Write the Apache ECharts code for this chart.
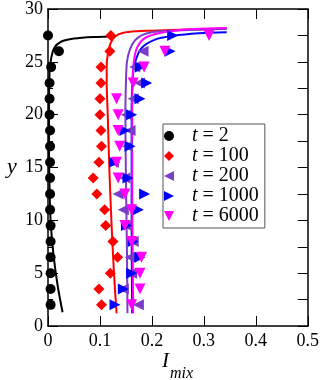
<!DOCTYPE html>
<html>
<head>
<meta charset="utf-8">
<script src="https://cdn.jsdelivr.net/npm/echarts@6/dist/echarts.min.js"></script>
<style>
  html, body { margin: 0; padding: 0; background: #fff; }
  #chart { width: 322px; height: 380px; }
</style>
</head>
<body>
<div id="chart"></div>
<script>
// y positions shared by all the marker sets
var yLevels = [2, 3.5, 5, 6.5, 8, 9.5, 11, 12.5, 14, 15.5, 17, 18.5, 20, 21.5, 23, 24.5, 26, 27.5];

// I_mix, one per y level (null = not drawn)
var t2x = [0.005, 0.005, 0.005, 0.005, 0.005, 0.005, 0.004, 0.004, 0.004, 0.004, 0.004, 0.004, 0.003, 0.003, 0.003, 0.006, 0.021, 0.0];
var t100x = [0.103, 0.098, 0.12, 0.134, 0.125, 0.111, 0.109, 0.094, 0.087, 0.098, 0.103, 0.102, 0.1, 0.1, 0.102, 0.102, 0.119, 0.121];
var t200x = [0.174, 0.145, 0.161, 0.158, 0.164, 0.151, 0.145, 0.135, 0.148, 0.126, 0.153, 0.158, 0.151, 0.164, 0.176, 0.167, 0.183, null];
var t1000x = [0.129, 0.145, 0.161, 0.177, 0.164, 0.151, 0.174, 0.186, 0.154, 0.128, 0.158, 0.148, 0.161, 0.177, 0.19, 0.178, 0.235, 0.24];
var t6000x = [0.161, 0.177, 0.177, 0.18, 0.161, 0.148, 0.161, 0.148, 0.135, 0.132, 0.138, 0.135, 0.135, 0.132, 0.164, 0.185, 0.225, 0.31];

// fitted curves, [I_mix, y]
var fit2 = [[0.028, 1.3], [0.018, 4], [0.01, 7], [0.005, 10], [0.003, 13], [0.002, 17], [0.002, 21], [0.003, 24], [0.006, 25.3], [0.012, 26.3], [0.025, 26.9], [0.05, 27.2], [0.09, 27.35], [0.13, 27.4]];
var fit100 = [[0.132, 1.2], [0.127, 5], [0.122, 10], [0.118, 15], [0.115, 20], [0.113, 23], [0.113, 24.5], [0.115, 25.7], [0.12, 26.7], [0.129, 27.4], [0.145, 27.75], [0.17, 27.9], [0.2, 27.95], [0.27, 28.05], [0.344, 28.15]];
var fit200 = [[0.153, 1.2], [0.152, 7], [0.15, 14], [0.149, 20], [0.15, 23], [0.152, 25], [0.158, 26.2], [0.167, 27.0], [0.18, 27.5], [0.2, 27.8], [0.24, 27.95], [0.3, 28.05], [0.344, 28.1]];
var fit1000 = [[0.162, 1.2], [0.161, 10], [0.161, 20], [0.163, 23.5], [0.168, 25], [0.18, 26.3], [0.206, 27.1], [0.24, 27.45], [0.29, 27.7], [0.344, 27.8]];
var fit6000 = [[0.164, 1.2], [0.163, 7], [0.162, 14], [0.162, 20], [0.163, 23.5], [0.166, 25.3], [0.173, 26.5], [0.19, 27.35], [0.228, 27.85], [0.28, 28.1], [0.344, 28.2]];

var names = ['t = 2', 't = 100', 't = 200', 't = 1000', 't = 6000'];
var colors = ['#000000', '#ff0000', '#7b3cc8', '#0000ff', '#ff00ff'];
var symbols = [
  'circle',
  'path://M5,0 L10,5 L5,10 L0,5 Z',
  'path://M10,0 L0,5 L10,10 Z',
  'path://M0,0 L10,5 L0,10 Z',
  'path://M0,0 L10,0 L5,10 Z'
];
var sizes = [10, 11, 11, 11, 11];

var serif = 'Liberation Serif';

function pairs(xs) {
  var out = [];
  xs.forEach(function (x, i) {
    if (x !== null) out.push([x, yLevels[i]]);
  });
  return out;
}

var markerSets = [t2x, t100x, t200x, t1000x, t6000x];
var fitSets = [fit2, fit100, fit200, fit1000, fit6000];

var series = [];
fitSets.forEach(function (d, i) {
  series.push({
    name: 'fit ' + names[i],
    type: 'line',
    data: d,
    smooth: 0.3,
    showSymbol: false,
    lineStyle: { color: colors[i], width: 2 },
    itemStyle: { color: colors[i] },
    z: 2,
    silent: true
  });
});
markerSets.forEach(function (xs, i) {
  series.push({
    name: names[i],
    type: 'scatter',
    data: pairs(xs),
    symbol: symbols[i],
    symbolSize: sizes[i],
    itemStyle: { color: colors[i], opacity: 1 },
    z: 3
  });
});

var chart = echarts.init(document.getElementById('chart'), null, { renderer: 'canvas' });

var axisCommon = {
  axisLine: { show: true, onZero: false, lineStyle: { color: '#000', width: 1.5 } },
  splitLine: { show: false }
};

chart.setOption({
  animation: false,
  backgroundColor: '#fff',
  textStyle: { fontFamily: serif, color: '#000' },
  grid: { left: 48, right: 14, top: 8, bottom: 54, containLabel: false },
  xAxis: [
    Object.assign({
      type: 'value', position: 'bottom', min: 0, max: 0.5, interval: 0.1,
      axisTick: { inside: true, length: 10, lineStyle: { color: '#000' } },
      axisLabel: {
        color: '#000', fontFamily: serif, fontSize: 18, margin: 6,
        formatter: function (v) { return v === 0 ? '0' : String(+v.toFixed(1)); }
      }
    }, axisCommon),
    Object.assign({
      type: 'value', position: 'top', min: 0, max: 0.5, interval: 0.1,
      axisTick: { inside: true, length: 10, lineStyle: { color: '#000' } },
      axisLabel: { show: false }
    }, axisCommon)
  ],
  yAxis: [
    Object.assign({
      type: 'value', position: 'left', min: 0, max: 30, interval: 5,
      axisTick: { inside: true, length: 10, lineStyle: { color: '#000' } },
      minorTick: { show: true, splitNumber: 2, length: 5, lineStyle: { color: '#000' } },
      axisLabel: { color: '#000', fontFamily: serif, fontSize: 18, margin: 5 }
    }, axisCommon),
    Object.assign({
      type: 'value', position: 'right', min: 0, max: 30, interval: 5,
      axisTick: { inside: true, length: 10, lineStyle: { color: '#000' } },
      minorTick: { show: true, splitNumber: 2, length: 10, lineStyle: { color: '#000' } },
      axisLabel: { show: false }
    }, axisCommon)
  ],
  legend: {
    data: names,
    orient: 'vertical',
    left: 163,
    top: 124,
    padding: [2, 6, 2, 1],
    itemGap: 0,
    itemWidth: 36,
    itemHeight: 10,
    symbolKeepAspect: true,
    borderColor: '#555',
    borderWidth: 1,
    formatter: function (name) { return '{i|t}{r|' + name.slice(1) + '}'; },
    textStyle: {
      color: '#000', fontFamily: serif, fontSize: 20, lineHeight: 20,
      rich: {
        i: { fontStyle: 'italic', fontFamily: serif, fontSize: 20, color: '#000', lineHeight: 20 },
        r: { fontFamily: serif, fontSize: 20, color: '#000', lineHeight: 20 }
      }
    }
  },
  graphic: [
    { type: 'text', left: 7, top: 156, style: { text: 'y', fontFamily: serif, fontStyle: 'italic', fontSize: 22, fill: '#000' } },
    { type: 'text', left: 162, top: 351, style: { text: 'I', fontFamily: serif, fontStyle: 'italic', fontSize: 21, fill: '#000' } },
    { type: 'text', left: 170, top: 366, style: { text: 'mix', fontFamily: serif, fontStyle: 'italic', fontSize: 16, fill: '#000' } }
  ],
  series: series
});
</script>
</body>
</html>
